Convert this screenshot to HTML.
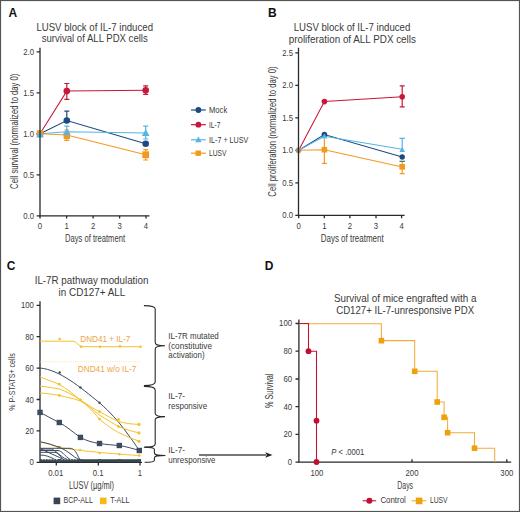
<!DOCTYPE html>
<html><head><meta charset="utf-8">
<style>
html,body{margin:0;padding:0;background:#fff;overflow:hidden;width:520px;height:512px;}
svg{display:block;}
text{font-family:"Liberation Sans",sans-serif;fill:#3a3a3a;}
.b{font-weight:bold;fill:#111;font-size:12px;}
.t{font-size:10.2px;}
.tk{font-size:8.8px;}
.lb{font-size:10px;}
.ax{stroke:#2a2a2a;stroke-width:1.3;fill:none;}
</style></head>
<body>
<svg width="520" height="512" viewBox="0 0 520 512">
<rect x="0" y="0" width="520" height="512" fill="#fff"/>
<rect x="0.5" y="0.5" width="519" height="511" fill="none" stroke="#555" stroke-width="1.2"/>

<!-- ============ PANEL A ============ -->
<text class="b" x="8.6" y="16.6">A</text>
<text class="t" x="94.7" y="30.6" text-anchor="middle" textLength="116.6" lengthAdjust="spacingAndGlyphs">LUSV block of IL-7 induced</text>
<text class="t" x="94.75" y="41.6" text-anchor="middle" textLength="106.1" lengthAdjust="spacingAndGlyphs">survival of ALL PDX cells</text>
<g class="ax">
<path d="M36.6 215.8H40M36.6 174.8H40M36.6 133.8H40M36.6 92.8H40M36.6 51.8H40"/>
<path d="M40 215.8V218.6M66.6 215.8V218.6M93.1 215.8V218.6M119.6 215.8V218.6M146 215.8V218.6"/>
</g>
<g class="tk" text-anchor="end">
<text x="34" y="218.9" textLength="10.76" lengthAdjust="spacingAndGlyphs">0.0</text><text x="34" y="177.9" textLength="10.76" lengthAdjust="spacingAndGlyphs">0.5</text><text x="34" y="136.9" textLength="10.76" lengthAdjust="spacingAndGlyphs">1.0</text><text x="34" y="95.9" textLength="10.76" lengthAdjust="spacingAndGlyphs">1.5</text><text x="34" y="54.9" textLength="10.76" lengthAdjust="spacingAndGlyphs">2.0</text>
</g>
<g class="tk" text-anchor="middle">
<text x="40" y="228.7" textLength="4.31" lengthAdjust="spacingAndGlyphs">0</text><text x="66.6" y="228.7" textLength="4.31" lengthAdjust="spacingAndGlyphs">1</text><text x="93.1" y="228.7" textLength="4.31" lengthAdjust="spacingAndGlyphs">2</text><text x="119.6" y="228.7" textLength="4.31" lengthAdjust="spacingAndGlyphs">3</text><text x="146" y="228.7" textLength="4.31" lengthAdjust="spacingAndGlyphs">4</text>
</g>
<text class="lb" x="95" y="241.7" text-anchor="middle" textLength="60" lengthAdjust="spacingAndGlyphs">Days of treatment</text>
<text class="lb" transform="translate(17.5,131.3) rotate(-90)" text-anchor="middle" textLength="115.2" lengthAdjust="spacingAndGlyphs">Cell survival (normalized to day 0)</text>

<!-- data A -->
<g fill="none" stroke-width="1.05">
<path d="M40 133.8L66.8 91.1L145.7 90.3" stroke="#c8173a"/>
<path d="M40 133.8L66.8 120.5L145.7 143.8" stroke="#1d4a80"/>
<path d="M40 133.8L66.8 131.7L145.7 132.9" stroke="#55b4e6"/>
<path d="M40 133.8L66.8 135L145.7 154.8" stroke="#f29a1f"/>
</g>
<g stroke-width="1.2" fill="none">
<path d="M66.8 83.5V99.3M64.3 83.5H69.3M64.3 99.3H69.3M145.7 85.9V94.3M143.2 85.9H148.2M143.2 94.3H148.2" stroke="#c8173a"/>
<path d="M66.8 111.2V120.5M64.3 111.2H69.3" stroke="#1d4a80"/>
<path d="M66.8 126.2V136M64.3 126.2H69.3M145.7 126.2V139M143.2 126.2H148.2M143.2 139H148.2" stroke="#55b4e6"/>
<path d="M66.8 130V140.3M64.3 130H69.3M64.3 140.3H69.3M145.7 149.6V160M143.2 149.6H148.2M143.2 160H148.2" stroke="#f29a1f"/>
</g>
<g>
<circle cx="66.8" cy="91.1" r="3.3" fill="#c8173a"/><circle cx="145.7" cy="90.3" r="3.3" fill="#c8173a"/>
<circle cx="66.8" cy="120.5" r="3.3" fill="#1d4a80"/><circle cx="145.7" cy="143.8" r="3.3" fill="#1d4a80"/>
<circle cx="40" cy="133.8" r="3.3" fill="#1d4a80"/>
<rect x="63.6" y="132.6" width="6.4" height="6.4" fill="#f29a1f"/><rect x="142.3" y="151.3" width="6.8" height="6.8" fill="#f29a1f"/>
<rect x="36.8" y="130.4" width="6.4" height="6.4" fill="#f29a1f"/>
<path d="M66.8 128.4L70.6 135H63Z" fill="#55b4e6"/><path d="M145.7 129.2L149.5 136H141.9Z" fill="#55b4e6"/>
<path d="M40 131L43.8 137.4H36.2Z" fill="#55b4e6"/>
</g>
<path d="M40 47.8V215.8H149.5" class="ax"/>
<!-- legend A -->
<g stroke-width="1.2">
<path d="M191 110H205.8" stroke="#1d4a80"/><circle cx="198.4" cy="110" r="2.9" fill="#1d4a80"/>
<path d="M191 124.7H205.8" stroke="#c8173a"/><circle cx="198.4" cy="124.7" r="2.9" fill="#c8173a"/>
<path d="M191 139.8H205.8" stroke="#55b4e6"/><path d="M198.4 136.4L201.6 142.2H195.2Z" fill="#55b4e6"/>
<path d="M191 153.2H205.8" stroke="#f29a1f"/><rect x="195.5" y="150.5" width="5.4" height="5.4" fill="#f29a1f"/>
</g>
<g class="tk">
<text x="209" y="112.9" textLength="18.2" lengthAdjust="spacingAndGlyphs">Mock</text><text x="209" y="127.6" textLength="11.3" lengthAdjust="spacingAndGlyphs">IL-7</text><text x="209" y="142.6" textLength="39.4" lengthAdjust="spacingAndGlyphs">IL-7 + LUSV</text><text x="209" y="156.2" textLength="17.5" lengthAdjust="spacingAndGlyphs">LUSV</text>
</g>

<!-- ============ PANEL B ============ -->
<text class="b" x="268" y="16.6">B</text>
<text class="t" x="352" y="30.6" text-anchor="middle" textLength="116.6" lengthAdjust="spacingAndGlyphs">LUSV block of IL-7 induced</text>
<text class="t" x="352.3" y="42.5" text-anchor="middle" textLength="127.2" lengthAdjust="spacingAndGlyphs">proliferation of ALL PDX cells</text>
<g class="ax">
<path d="M295.3 215.4H298.7M295.3 182.9H298.7M295.3 150.4H298.7M295.3 117.9H298.7M295.3 85.4H298.7M295.3 52.9H298.7"/>
<path d="M298.7 215.4V218.2M324.3 215.4V218.2M349.9 215.4V218.2M376 215.4V218.2M401.6 215.4V218.2"/>
</g>
<g class="tk" text-anchor="end">
<text x="293" y="218.2" textLength="10.76" lengthAdjust="spacingAndGlyphs">0.0</text><text x="293" y="185.7" textLength="10.76" lengthAdjust="spacingAndGlyphs">0.5</text><text x="293" y="153.2" textLength="10.76" lengthAdjust="spacingAndGlyphs">1.0</text><text x="293" y="120.7" textLength="10.76" lengthAdjust="spacingAndGlyphs">1.5</text><text x="293" y="88.2" textLength="10.76" lengthAdjust="spacingAndGlyphs">2.0</text><text x="293" y="55.7" textLength="10.76" lengthAdjust="spacingAndGlyphs">2.5</text>
</g>
<g class="tk" text-anchor="middle">
<text x="298.7" y="228.5" textLength="4.31" lengthAdjust="spacingAndGlyphs">0</text><text x="324.3" y="228.5" textLength="4.31" lengthAdjust="spacingAndGlyphs">1</text><text x="349.9" y="228.5" textLength="4.31" lengthAdjust="spacingAndGlyphs">2</text><text x="376" y="228.5" textLength="4.31" lengthAdjust="spacingAndGlyphs">3</text><text x="401.6" y="228.5" textLength="4.31" lengthAdjust="spacingAndGlyphs">4</text>
</g>
<text class="lb" x="352.2" y="242.2" text-anchor="middle" textLength="63" lengthAdjust="spacingAndGlyphs">Days of treatment</text>
<text class="lb" transform="translate(276.3,131.5) rotate(-90)" text-anchor="middle" textLength="130.3" lengthAdjust="spacingAndGlyphs">Cell proliferation (normalized to day 0)</text>
<g fill="none" stroke-width="1.05">
<path d="M298.7 150.2L324.4 101.6L402.2 96.8" stroke="#c8173a"/>
<path d="M298.7 150.2L324.4 134.5L402.2 157" stroke="#1d4a80"/>
<path d="M298.7 150.2L324.4 136.3L402.2 149.2" stroke="#55b4e6"/>
<path d="M298.7 150.2L324.4 149.7L402.2 167" stroke="#f29a1f"/>
</g>
<g stroke-width="1.2" fill="none">
<path d="M402.2 85.8V106.9M399.7 85.8H404.7M399.7 106.9H404.7" stroke="#c8173a"/>
<path d="M402.2 138.3V149M399.5 138.3H404.9" stroke="#55b4e6"/><path d="M399.5 161.3H404.9" stroke="#3a6a6a"/>
<path d="M324.4 138.7V163.3M321.9 163.3H326.9M402.2 161.9V173.6M399.7 173.6H404.7" stroke="#f29a1f"/>
</g>
<g>
<circle cx="324.4" cy="101.6" r="2.8" fill="#c8173a"/><circle cx="402.2" cy="96.8" r="2.8" fill="#c8173a"/>
<circle cx="324.4" cy="134.5" r="2.8" fill="#1d4a80"/><circle cx="402.2" cy="157" r="2.7" fill="#1d4a80"/>
<path d="M324.4 133.4L327.3 138.6H321.5Z" fill="#55b4e6"/><path d="M402.2 147L405 152H399.4Z" fill="#55b4e6"/>
<rect x="321.6" y="146.9" width="5.6" height="5.6" fill="#f29a1f"/><rect x="399.4" y="164" width="5.6" height="5.6" fill="#f29a1f"/>
<circle cx="298.5" cy="150.3" r="3.1" fill="#e9a552"/>
<circle cx="298.5" cy="150.3" r="2.3" fill="#6f93ad"/>
<path d="M298.5 47.8V215.4H404.6" class="ax"/>
</g>

<!-- ============ PANEL C ============ -->
<text class="b" x="6.8" y="269.8">C</text>
<text class="t" x="91.55" y="283.8" text-anchor="middle" textLength="113.7" lengthAdjust="spacingAndGlyphs">IL-7R pathway modulation</text>
<text class="t" x="91.95" y="295.5" text-anchor="middle" textLength="66.7" lengthAdjust="spacingAndGlyphs">in CD127+ ALL</text>
<g class="ax">
<path d="M40 301.3V462.3H142"/>
<path d="M36.6 462.3H40M36.6 430.9H40M36.6 399.5H40M36.6 368.1H40M36.6 336.7H40M36.6 305.3H40"/>
<path d="M56.3 462.5V465.5M98.3 462.5V465.5M140 462.5V465.5"/>
</g>
<g class="tk" text-anchor="end">
<text x="33.8" y="465.4" textLength="4.31" lengthAdjust="spacingAndGlyphs">0</text><text x="33.8" y="434" textLength="8.61" lengthAdjust="spacingAndGlyphs">20</text><text x="33.8" y="402.6" textLength="8.61" lengthAdjust="spacingAndGlyphs">40</text><text x="33.8" y="371.2" textLength="8.61" lengthAdjust="spacingAndGlyphs">60</text><text x="33.8" y="339.8" textLength="8.61" lengthAdjust="spacingAndGlyphs">80</text><text x="33.8" y="308.4" textLength="12.92" lengthAdjust="spacingAndGlyphs">100</text>
</g>
<g class="tk" text-anchor="middle">
<text x="55.7" y="475.8" textLength="15.07" lengthAdjust="spacingAndGlyphs">0.01</text><text x="98.1" y="475.8" textLength="10.76" lengthAdjust="spacingAndGlyphs">0.1</text><text x="139.8" y="475.8" textLength="4.31" lengthAdjust="spacingAndGlyphs">1</text>
</g>
<text class="lb" x="91.4" y="488.7" text-anchor="middle" textLength="45" lengthAdjust="spacingAndGlyphs">LUSV (µg/ml)</text>
<text class="lb" style="font-size:9px" transform="translate(15.3,382) rotate(-90)" text-anchor="middle" textLength="57.4" lengthAdjust="spacingAndGlyphs">% P-STATS+ cells</text>

<!-- legend C -->
<rect x="53.6" y="497.6" width="6.6" height="6.6" fill="#3a4354"/>
<text class="tk" x="63.5" y="503.3" textLength="29.4" lengthAdjust="spacingAndGlyphs">BCP-ALL</text>
<rect x="100" y="497.6" width="6.6" height="6.6" fill="#f5b818"/>
<text class="tk" x="110.2" y="503.3" textLength="19.2" lengthAdjust="spacingAndGlyphs">T-ALL</text>

<!-- curves C -->
<g fill="none" stroke-width="1">
<path d="M40 341.2H73C77 341.2 78 346.7 83 346.7H140.8" stroke="#f4c22a"/>
<path d="M40 361.7H140.8" stroke="#f5d070" stroke-width="0.7" stroke-dasharray="0.8 1.4"/>
<path d="M40 442C50 444 55 446.5 59.1 447.5C70 449.5 100 453 140 455.6" stroke="#f4c22a"/>
<path d="M40 368C60 370 80 387 99.5 402.8C110 412 118 421 124 429C130 437 136 445 140 452" stroke="#3d4a60"/>
<path d="M40 377C48 380 54 382 59.3 384.5C66 388 74 395 80.4 400C88 405 94 409 99.5 411.7C106 415 114 420 118.5 421.5C126 423.5 132 424.2 140 424.4" stroke="#f4c22a"/>
<path d="M40 386C48 387 54 388 59.3 389C66 391 74 396 80.4 400C88 405 94 411 99.5 415C106 419 114 424 118.5 426.5C126 429.5 132 431.5 140 433" stroke="#f4c22a"/>
<path d="M40 393C48 393.5 54 394.5 59.3 395.5C66 397 74 398.5 80.4 401C88 405 94 413 99.5 419C106 425 114 430 118.5 432.5C126 436 132 439 140 441.3" stroke="#f4c22a"/>
<path d="M40 412.4C47 416 53 419.5 59.3 422.5C66 426 74 433 80.4 437.4C87 441 93 442.6 99.5 443.5C106 444.5 112 445 119.3 445.5C126 446.5 132 448.5 140 450.5" stroke="#3d4a60"/>
<path d="M40 441.8C48 443 54 445.5 59.1 447.3C64 449 68 452 72 455C75 457.5 78 459.5 82 460.2" stroke="#3d4a60"/>
<path d="M40 448.3H70C74 448.3 76 452 78 456C79 458.5 80 460 82 460.5" stroke="#3d4a60"/>
<path d="M40 449H50C54 449 56 452 60 455C63 457.5 66 459.5 70 460.2" stroke="#3d4a60"/>
<path d="M40 450.5H58C62 451 64 455 68 458C70 459.5 72 460 75 460.3" stroke="#3d4a60"/>
<path d="M40 452.3H55C58 452.5 60 456 62 458.5C63 459.5 64 460 66 460.3" stroke="#3d4a60"/>
<path d="M40 455C46 455 50 457 54 459L56 460.3" stroke="#3d4a60"/>
<path d="M41 449L59.5 457.5L66 460.5" stroke="#3d4a60"/>
</g>
<path d="M40 460.7H141" stroke="#34454f" stroke-width="3" fill="none"/>
<path d="M42 459.7H78" stroke="#dfe4ea" stroke-width="0.8" stroke-dasharray="1.2 1.6" fill="none"/>
<g fill="#3d4a60">
<rect x="37.3" y="409.7" width="5.4" height="5.4"/><rect x="56.6" y="419.8" width="5.4" height="5.4"/><rect x="77.7" y="434.7" width="5.4" height="5.4"/><rect x="96.8" y="440.8" width="5.4" height="5.4"/><rect x="116.6" y="442.8" width="5.4" height="5.4"/><rect x="136.6" y="447.8" width="5.4" height="5.4"/>
<circle cx="59.7" cy="372.5" r="1.2"/><circle cx="80.4" cy="387.4" r="1.2"/><circle cx="99.5" cy="402.8" r="1.2"/>
<rect x="58" y="459" width="3" height="3"/><rect x="78.5" y="459" width="3" height="3"/><rect x="98" y="459" width="3" height="3"/><rect x="117.8" y="459" width="3" height="3"/><rect x="137.8" y="459" width="3" height="3"/>
</g>
<g fill="#f4c22a">
<circle cx="59.7" cy="339" r="1.3"/><circle cx="81" cy="346.7" r="1.3"/><circle cx="100" cy="346.7" r="1.3"/><circle cx="120" cy="346.2" r="1.3"/><circle cx="140.5" cy="346.7" r="1.3"/>
<circle cx="59.3" cy="384.2" r="1.4"/><circle cx="59.3" cy="395.4" r="1.4"/><circle cx="80.4" cy="400" r="1.4"/>
<circle cx="99.5" cy="411.7" r="1.4"/><circle cx="99.5" cy="419.1" r="1.4"/><circle cx="118.5" cy="419.5" r="1.4"/><circle cx="118.5" cy="426.5" r="1.4"/>
<circle cx="139" cy="424.4" r="1.6"/><circle cx="139" cy="432.9" r="1.6"/><circle cx="139" cy="441.3" r="1.6"/>
<circle cx="80" cy="450" r="1.3"/><circle cx="99.6" cy="453" r="1.3"/><circle cx="119.3" cy="454.3" r="1.3"/><circle cx="139.3" cy="455.6" r="1.3"/>
</g>
<circle cx="59.1" cy="447.3" r="1.6" fill="#7d7a3a"/>
<text x="80.3" y="341.5" style="font-size:9.4px;fill:#eea543" textLength="50" lengthAdjust="spacingAndGlyphs">DND41 + IL-7</text>
<text x="77.8" y="371.6" style="font-size:9.4px;fill:#eea543" textLength="58.5" lengthAdjust="spacingAndGlyphs">DND41 w/o IL-7</text>

<!-- brackets -->
<g fill="none" stroke="#2a2a2a" stroke-width="1.1">
<path d="M143.9 305.6C150 305.6 155.2 306 155.2 309V342.5C155.2 344.8 157 345.8 165 345.8C157 345.8 155.2 346.8 155.2 349V382C155.2 385 150 385.6 143.9 385.6"/>
<path d="M143.9 386.4C150 386.4 155.2 387 155.2 390V413.5C155.2 415.6 157 416.6 165 416.6C157 416.6 155.2 417.6 155.2 419.8V444C155.2 446.8 150 447.3 143.9 447.3"/>
<path d="M144.6 447.1C150 447.1 154.4 447.5 154.4 449.5V453C154.4 454.8 156 455.5 165.4 455.5C156 455.5 154.4 456.2 154.4 458V460.2C154.4 462 150 462.3 144.6 462.3"/>
</g>
<g class="tk">
<text x="168.3" y="339.1" textLength="50.5" lengthAdjust="spacingAndGlyphs">IL-7R mutated</text>
<text x="168.3" y="348.5" textLength="43.7" lengthAdjust="spacingAndGlyphs">(constitutive</text>
<text x="168.3" y="358" textLength="36.3" lengthAdjust="spacingAndGlyphs">activation)</text>
<text x="168.3" y="398.9" textLength="16.8" lengthAdjust="spacingAndGlyphs">IL-7-</text>
<text x="168.3" y="409" textLength="38.8" lengthAdjust="spacingAndGlyphs">responsive</text>
<text x="168.3" y="452.9" textLength="16.8" lengthAdjust="spacingAndGlyphs">IL-7-</text>
<text x="168.3" y="463.2" textLength="47.2" lengthAdjust="spacingAndGlyphs">unresponsive</text>
</g>
<path d="M199 455H266" stroke="#4a4a4a" stroke-width="1.3" fill="none"/>
<path d="M272.5 455L265.2 452.3L266.8 455L265.2 457.7Z" fill="#222"/>

<!-- ============ PANEL D ============ -->
<text class="b" x="264.8" y="270">D</text>
<text class="t" x="405.2" y="302.4" text-anchor="middle" textLength="142.6" lengthAdjust="spacingAndGlyphs">Survival of mice engrafted with a</text>
<text class="t" x="405.2" y="313.8" text-anchor="middle" textLength="138" lengthAdjust="spacingAndGlyphs">CD127+ IL-7-unresponsive PDX</text>
<g class="ax">
<path d="M298.9 319.4V462.1H511.2"/>
<path d="M295.5 462.1H298.9M295.5 434.4H298.9M295.5 406.7H298.9M295.5 379H298.9M295.5 351.2H298.9M295.5 323.5H298.9"/>
<path d="M412 462.1V459.3M506.8 462.1V459.3"/>
</g>
<g class="tk" text-anchor="end">
<text x="292" y="464.9" textLength="4.31" lengthAdjust="spacingAndGlyphs">0</text><text x="292" y="437.2" textLength="8.61" lengthAdjust="spacingAndGlyphs">20</text><text x="292" y="409.5" textLength="8.61" lengthAdjust="spacingAndGlyphs">40</text><text x="292" y="381.8" textLength="8.61" lengthAdjust="spacingAndGlyphs">60</text><text x="292" y="354" textLength="8.61" lengthAdjust="spacingAndGlyphs">80</text><text x="292" y="326.3" textLength="12.92" lengthAdjust="spacingAndGlyphs">100</text>
</g>
<g class="tk" text-anchor="middle">
<text x="316.9" y="476" textLength="12.92" lengthAdjust="spacingAndGlyphs">100</text><text x="412" y="476" textLength="12.92" lengthAdjust="spacingAndGlyphs">200</text><text x="506.8" y="476" textLength="12.92" lengthAdjust="spacingAndGlyphs">300</text>
</g>
<text class="lb" x="405.2" y="489.1" text-anchor="middle" textLength="15.8" lengthAdjust="spacingAndGlyphs">Days</text>
<text class="lb" transform="translate(272.5,390.8) rotate(-90)" text-anchor="middle" textLength="34.6" lengthAdjust="spacingAndGlyphs">% Survival</text>
<path d="M298.9 323.7H381.4V340.6H414.7V371.3H437.2V402H444.1V417.3H447.6V432.7H474.5V448.2H494.7V462.1" fill="none" stroke="#f2ac3c" stroke-width="1.05"/>
<path d="M298.9 323.5H308.5V351.2H316.5V462" fill="none" stroke="#c41538" stroke-width="1.1"/>
<g fill="#f0a00a">
<rect x="378.6" y="337.9" width="5.6" height="5.6"/><rect x="411.9" y="368.5" width="5.6" height="5.6"/><rect x="434.4" y="399.2" width="5.6" height="5.6"/><rect x="441.3" y="414.5" width="5.6" height="5.6"/><rect x="444.8" y="429.9" width="5.6" height="5.6"/><rect x="471.7" y="445.4" width="5.6" height="5.6"/>
</g>
<g fill="#c20f30">
<circle cx="308.5" cy="351.2" r="2.9"/><circle cx="316.5" cy="420.7" r="2.9"/><circle cx="316.5" cy="462" r="2.9"/>
</g>
<text class="tk" x="331.3" y="454.8" textLength="33" lengthAdjust="spacingAndGlyphs"><tspan style="font-style:italic">P</tspan> &lt; .0001</text>
<!-- legend D -->
<path d="M362.7 500.8H376.2" stroke="#c41538" stroke-width="1.1"/><circle cx="369.4" cy="500.8" r="3" fill="#c20f30"/>
<text class="tk" x="380.4" y="503.4" textLength="25.4" lengthAdjust="spacingAndGlyphs">Control</text>
<path d="M411.5 500.8H426.4" stroke="#f2ac3c" stroke-width="1.1"/><rect x="415.8" y="497.6" width="6.6" height="6.6" fill="#f0a00a"/>
<text class="tk" x="430" y="503.4" textLength="17.6" lengthAdjust="spacingAndGlyphs">LUSV</text>
</svg>
</body></html>
